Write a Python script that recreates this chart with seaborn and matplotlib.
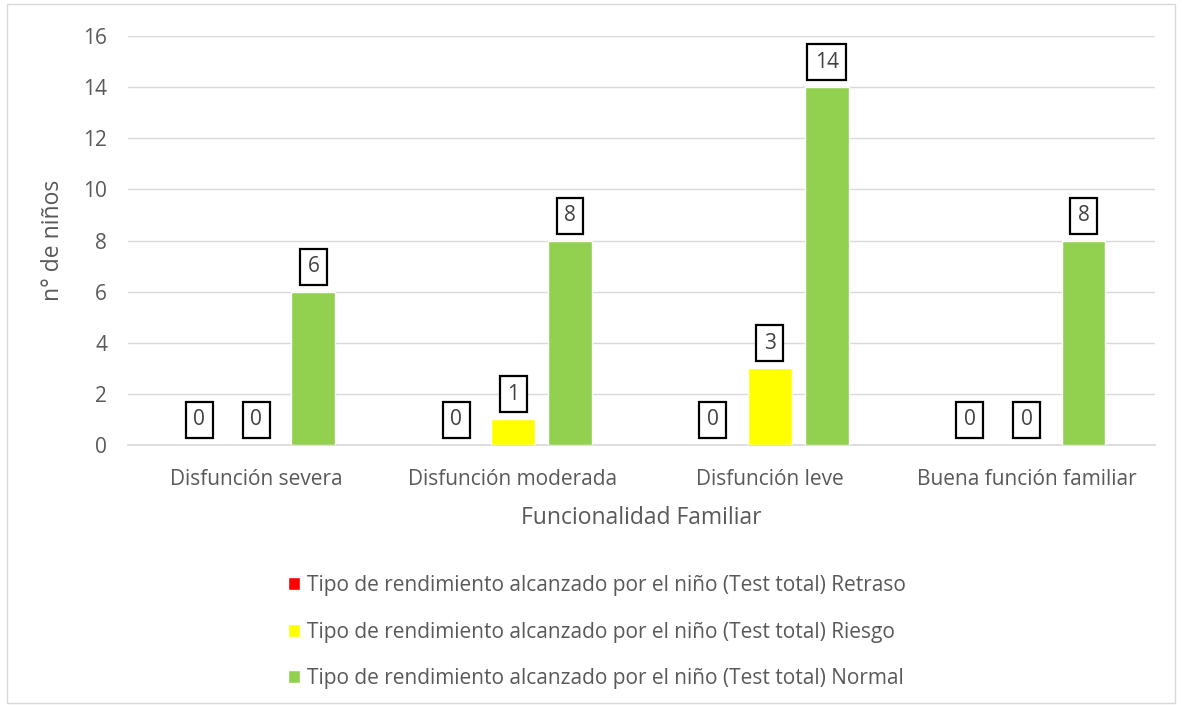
import matplotlib
matplotlib.use("Agg")
import matplotlib.pyplot as plt
import seaborn as sns
import pandas as pd
from matplotlib.patches import Rectangle

categories = ["Disfunción severa", "Disfunción moderada", "Disfunción leve", "Buena función familiar"]
series_names = [
    "Tipo de rendimiento alcanzado por el niño (Test total) Retraso",
    "Tipo de rendimiento alcanzado por el niño (Test total) Riesgo",
    "Tipo de rendimiento alcanzado por el niño (Test total) Normal",
]
retraso = [0, 0, 0, 0]
riesgo = [0, 1, 3, 0]
normal = [6, 8, 14, 8]
colors = ["#FF0000", "#FFFF00", "#92D050"]
yticks = [0, 2, 4, 6, 8, 10, 12, 14, 16]

rows = []
for name, vals in zip(series_names, [retraso, riesgo, normal]):
    for c, v in zip(categories, vals):
        rows.append({"cat": c, "serie": name, "val": v})
df = pd.DataFrame(rows)

sns.set_theme(style="white")
plt.rcParams["font.family"] = ["Open Sans", "DejaVu Sans"]

fig = plt.figure(figsize=(11.82, 7.07), dpi=100)
ax = fig.add_axes([0.1083, 0.3706, 0.977 - 0.1083, 0.949 - 0.3706])

sns.barplot(data=df, x="cat", y="val", hue="serie", order=categories,
            hue_order=series_names, palette=colors, width=0.666, gap=0.23,
            saturation=1, ax=ax, legend=True, zorder=3)

ax.set_ylim(0, 16)
ax.set_yticks(yticks)
ax.set_xlim(-0.5, 3.5)
ax.yaxis.grid(True, color="#D9D9D9", linewidth=1, zorder=0)
ax.set_axisbelow(True)
for s in ["top", "right", "left"]:
    ax.spines[s].set_visible(False)
ax.spines["bottom"].set_color("#D9D9D9")
ax.tick_params(axis="both", length=0, labelsize=15, colors="#595959")
ax.tick_params(axis="x", pad=17)
ax.tick_params(axis="y", pad=15)
ax.set_xlabel("Funcionalidad Familiar", fontsize=16.5, color="#595959", labelpad=12)
ax.set_ylabel("n° de niños", fontsize=16.5, color="#595959", labelpad=13)

for cont in ax.containers:
    for bar in cont:
        h = bar.get_height()
        xc = bar.get_x() + bar.get_width() / 2
        ax.annotate(f"{int(h)}", (xc, h), xytext=(0, 18), textcoords="offset points",
                    ha="center", va="center", fontsize=15, color="#404040",
                    bbox=dict(boxstyle="square,pad=0.36", fc="white", ec="black", lw=1.6),
                    zorder=5)

handles, labels = ax.get_legend_handles_labels()
ax.legend_.remove()
fig.legend(handles, labels, loc="center", bbox_to_anchor=(0.505, 0.106), ncol=1,
           frameon=False, fontsize=15, labelcolor="#595959", handlelength=0.6,
           handleheight=0.6, handletextpad=0.35, labelspacing=1.22)

fig.patches.append(Rectangle((0.006, 0.006), 0.988, 0.988, transform=fig.transFigure,
                             fill=False, ec="#D9D9D9", lw=1))

fig.savefig("out.png", dpi=100, facecolor="white")
